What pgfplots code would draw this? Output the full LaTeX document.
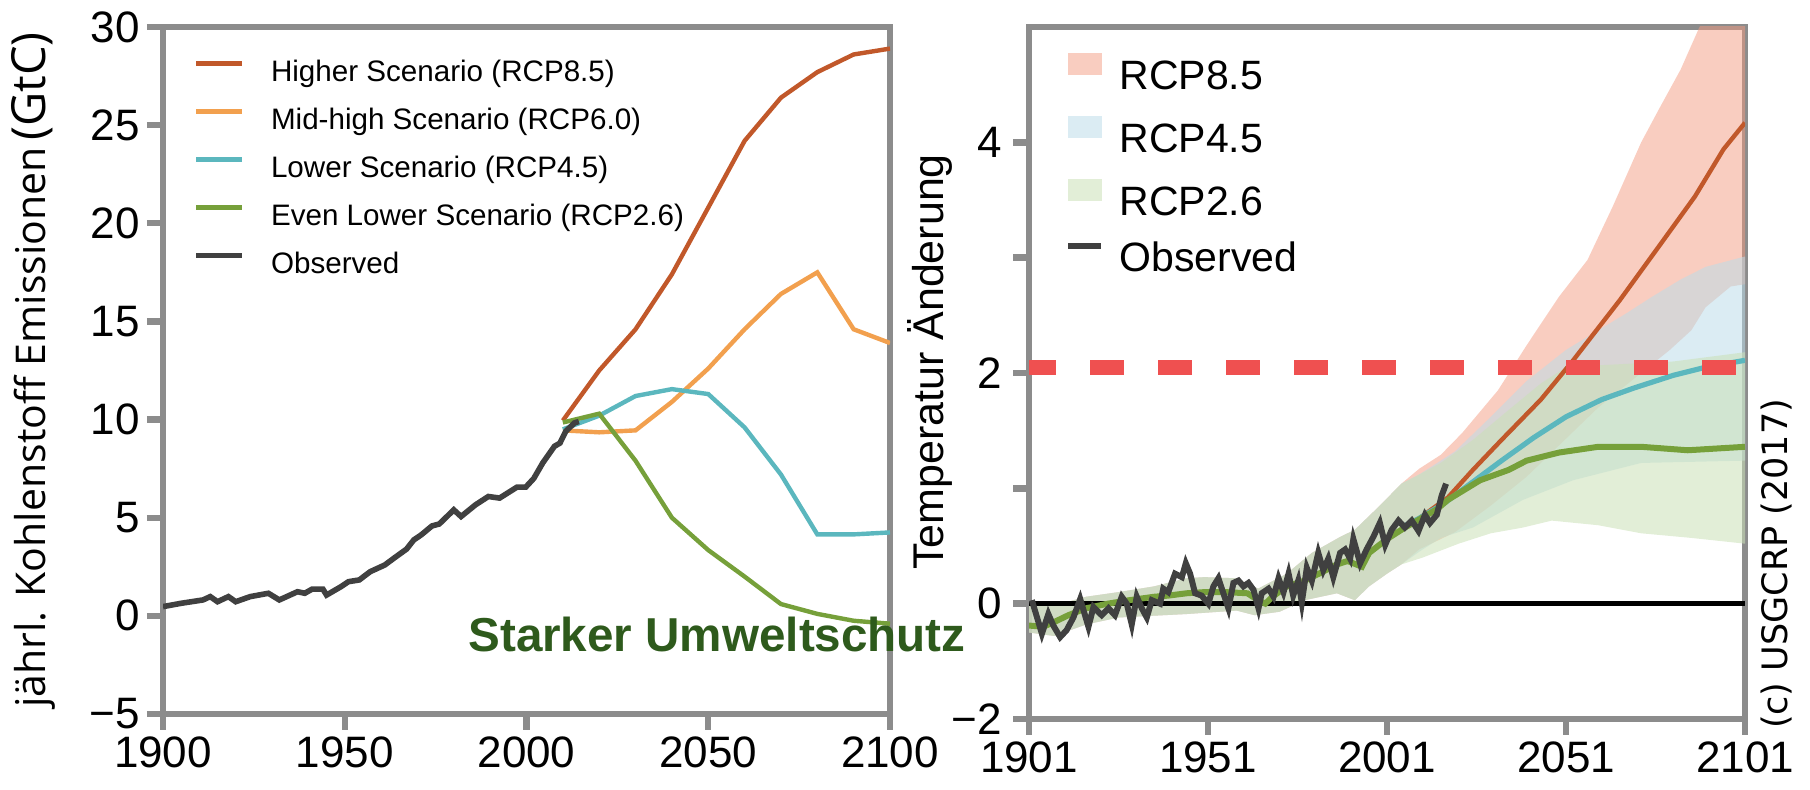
\documentclass[border=0pt]{standalone}
\usepackage{fontspec}
\setmainfont{Liberation Sans}
\newfontfamily\opensans{Open Sans}
\newfontfamily\dejavu{DejaVu Sans}
\usepackage{pgfplots}
\pgfplotsset{compat=1.18}

\definecolor{c85}{HTML}{C1582A}
\definecolor{c60}{HTML}{F2A04E}
\definecolor{c45}{HTML}{5BB7BE}
\definecolor{c26}{HTML}{76A03A}
\definecolor{cobs}{HTML}{404040}
\definecolor{axgray}{HTML}{8C8C8C}
\definecolor{dkgreen}{HTML}{2E5A1C}
\definecolor{band85}{RGB}{243,155,129}
\definecolor{band45}{RGB}{188,220,233}
\definecolor{band26}{RGB}{203,225,184}
\definecolor{p85}{RGB}{249,205,192}
\definecolor{p45}{RGB}{219,236,243}
\definecolor{p26}{RGB}{226,238,215}
\definecolor{dashred}{RGB}{239,80,80}

\pgfplotsset{
  myax/.style={
    scale only axis, anchor=south west,
    axis line style={axgray, line width=3.2pt},
    major tick style={axgray, line width=3.2pt},
    major tick length=8pt, tick align=outside,
    xtick pos=bottom, ytick pos=left,
    tick label style={font=\fontsize{22}{22}\selectfont},
  }
}

\begin{document}
\begin{tikzpicture}
\path[use as bounding box] (0,0) rectangle (905pt,395pt);

% ---------------- left chart ----------------
\begin{axis}[myax,
  at={(81.5pt,38pt)}, width=363.5pt, height=343.5pt,
  xmin=1900, xmax=2100, ymin=-5, ymax=30,
  xtick={1900,1950,2000,2050,2100},
  xticklabels={1900,1950,2000,2050,2100},
  ytick={-5,0,5,10,15,20,25,30},
  yticklabels={−5,0,5,10,15,20,25,30},
  legend cell align=left,
  legend style={at={(0.0413,0.953)}, anchor=north west, draw=none, fill=none,
    inner sep=0pt, font=\fontsize{14.8}{14.8}\selectfont, row sep=9.5pt,
    nodes={inner sep=0pt, text height=11pt, text depth=3.5pt}},
  legend image code/.code={\draw[#1] (0pt,5.4pt) -- (23pt,5.4pt); \path (36pt,0pt);},
]
\addplot[c85, line width=2.2pt] coordinates {
(2010,9.95) (2020,12.5) (2030,14.6) (2040,17.4) (2050,20.8) (2060,24.2)
(2070,26.4) (2080,27.7) (2090,28.6) (2100,28.9)};
\addlegendentry{Higher Scenario (RCP8.5)}
\addplot[c60, line width=2.2pt] coordinates {
(2010,9.45) (2020,9.35) (2030,9.45) (2040,10.9) (2050,12.6) (2060,14.6)
(2070,16.4) (2080,17.5) (2090,14.6) (2100,13.9)};
\addlegendentry{Mid-high Scenario (RCP6.0)}
\addplot[c45, line width=2.2pt] coordinates {
(2010,9.5) (2020,10.2) (2030,11.2) (2040,11.55) (2050,11.3) (2060,9.6)
(2070,7.2) (2080,4.15) (2090,4.15) (2100,4.25)};
\addlegendentry{Lower Scenario (RCP4.5)}
\addplot[c26, line width=2.2pt] coordinates {
(2010,9.85) (2020,10.3) (2030,7.9) (2040,5.0) (2050,3.35) (2060,2.0)
(2070,0.6) (2080,0.1) (2090,-0.25) (2100,-0.4)};
\addlegendentry{Even Lower Scenario (RCP2.6)}
\addplot[cobs, line width=2.8pt] coordinates {
(1900,0.47) (1905,0.64) (1911,0.81) (1913,0.98) (1915,0.72) (1918,0.98)
(1920,0.72) (1924,0.98) (1929,1.15) (1932,0.81) (1937,1.23) (1939,1.15)
(1941,1.36) (1944,1.36) (1945,1.06) (1949,1.49) (1951,1.74) (1954,1.83)
(1957,2.25) (1961,2.59) (1964,3.0) (1967,3.4) (1969,3.87) (1971,4.12)
(1974,4.58) (1976,4.68) (1980,5.4) (1982,5.06) (1986,5.66) (1989.5,6.08)
(1992.6,6.0) (1997.4,6.56) (1999.8,6.56) (2002,7.0) (2004.5,7.8)
(2007.7,8.64) (2009.2,8.8) (2010.8,9.4) (2013.2,9.83) (2014.4,9.9)};
\addlegendentry{Observed}
\end{axis}

% ---------------- right chart ----------------
\begin{axis}[myax,
  at={(514.5pt,35.5pt)}, width=358pt, height=346pt,
  xmin=1901, xmax=2101, ymin=-1, ymax=5,
  xtick={1901,1951,2001,2051,2101},
  xticklabels={1901,1951,2001,2051,2101},
  ytick={-1,0,1,2,3,4},
  yticklabels={−2,0,{},2,{},4},
  yticklabel style={xshift=-2pt},
  legend cell align=left,
  legend style={at={(0.0496,0.963)}, anchor=north west, draw=none, fill=none,
    inner sep=0pt, font=\fontsize{20.5}{20.5}\selectfont, row sep=9.2pt,
    nodes={inner sep=0pt, text height=15pt, text depth=4pt}},
]
% RCP8.5 range
\addplot[fill=band85, fill opacity=0.5, draw=none, forget plot] coordinates {
(1901,-0.02) (1910,0.0) (1917,0.06) (1926,0.10) (1936,0.15) (1945,0.22)
(1950,0.23) (1959,0.22) (1965,0.13) (1973,0.26) (1980,0.44) (1988,0.58)
(1992,0.64) (1999,0.85) (2005,1.04) (2010,1.17) (2016,1.29) (2022,1.48)
(2032,1.85) (2040,2.24) (2049,2.66) (2057,2.98) (2064,3.44) (2072,4.0)
(2077,4.29) (2083,4.63) (2088,4.98) (2101,5.8)
(2101,2.77) (2097,2.75) (2090,2.57) (2086,2.37) (2080,2.2) (2070,1.95)
(2060,1.7) (2050,1.4) (2040,1.1) (2030,0.85) (2020,0.62) (2010,0.47)
(2005,0.34) (2001,0.26) (1996,0.15) (1992,0.03) (1987,0.09) (1978,0.03)
(1971,-0.07) (1964,-0.10) (1959,-0.06) (1945,-0.09) (1926,-0.12)
(1917,-0.18) (1908,-0.28) (1901,-0.25)};
% RCP4.5 range
\addplot[fill=band45, fill opacity=0.54, draw=none, forget plot] coordinates {
(1901,-0.02) (1910,0.0) (1917,0.06) (1926,0.10) (1936,0.15) (1945,0.22)
(1950,0.23) (1959,0.22) (1965,0.13) (1973,0.26) (1980,0.44) (1988,0.58)
(1992,0.64) (1999,0.85) (2005,1.04) (2010,1.12) (2020,1.32) (2030,1.62)
(2040,1.93) (2051,2.2) (2060,2.37) (2068,2.52) (2075,2.66) (2083,2.81)
(2090,2.92) (2101,3.01)
(2101,1.24) (2072,1.22) (2053,1.07) (2039,0.9) (2025,0.66) (2016,0.57)
(2010,0.45)
(2005,0.34) (2001,0.26) (1996,0.15) (1992,0.03) (1987,0.09) (1978,0.03)
(1971,-0.07) (1964,-0.10) (1959,-0.06) (1945,-0.09) (1926,-0.12)
(1917,-0.18) (1908,-0.28) (1901,-0.25)};
% RCP2.6 range
\addplot[fill=band26, fill opacity=0.56, draw=none, forget plot] coordinates {
(1901,-0.02) (1910,0.0) (1917,0.06) (1926,0.10) (1936,0.15) (1945,0.22)
(1950,0.23) (1959,0.22) (1965,0.13) (1973,0.26) (1980,0.44) (1988,0.58)
(1992,0.64) (1999,0.85) (2005,1.04) (2010,1.12) (2016,1.22) (2025,1.42)
(2035,1.68) (2044,1.91) (2051,2.05) (2062,2.07) (2081,2.10) (2101,2.18)
(2101,0.52) (2086,0.57) (2072,0.61) (2060,0.68) (2047,0.72) (2039,0.66)
(2030,0.61) (2021,0.52) (2011,0.40)
(2005,0.34) (2001,0.26) (1996,0.15) (1992,0.03) (1987,0.09) (1978,0.03)
(1971,-0.07) (1964,-0.10) (1959,-0.06) (1945,-0.09) (1926,-0.12)
(1917,-0.18) (1908,-0.28) (1901,-0.25)};

\addplot[black, line width=2.5pt, forget plot] coordinates {(1901,0) (2101,0)};

\addplot[c85, line width=2.2pt, forget plot] coordinates {
(2005,0.66) (2010,0.74) (2018,0.92) (2025,1.16) (2033,1.42) (2044,1.77)
(2053,2.11) (2066,2.63) (2077,3.10) (2087,3.53) (2095,3.94) (2101,4.17)};
\addplot[c45, line width=2.6pt, forget plot] coordinates {
(2005,0.66) (2010,0.74) (2017,0.87) (2023,1.01) (2033,1.24) (2042,1.44)
(2051,1.62) (2061,1.77) (2070,1.87) (2081,1.98) (2090,2.05) (2101,2.11)};
\addplot[c26, line width=3pt, forget plot] coordinates {
(1901,-0.19) (1905,-0.20) (1908,-0.16) (1912,-0.10) (1917,-0.04) (1923,0.0)
(1929,0.03) (1936,0.06) (1940,0.07) (1945,0.09) (1950,0.10) (1956,0.10)
(1962,0.09) (1965,0.03) (1967,0.0) (1969,0.06) (1973,0.15) (1978,0.20)
(1982,0.26) (1987,0.34) (1990,0.37) (1994,0.32) (1996,0.44) (2001,0.56)
(2006,0.66) (2010,0.73) (2015,0.82) (2018,0.90) (2027,1.07) (2035,1.16)
(2040,1.24) (2049,1.31) (2060,1.36) (2072,1.36) (2085,1.33) (2101,1.36)};
\addplot[cobs, line width=3pt, forget plot] coordinates {
(1901.8,0.03) (1904.6,-0.26) (1906.4,-0.09) (1907.8,-0.19) (1909.7,-0.29)
(1911.5,-0.23) (1913.4,-0.12) (1915.3,0.04) (1917.6,-0.20) (1919,-0.03)
(1921.3,-0.10) (1923.2,-0.04) (1925,-0.10) (1926.9,0.06) (1928.3,0.0)
(1929.7,-0.18) (1931.1,0.06) (1932.5,-0.04) (1933.9,-0.12) (1935.3,0.03)
(1937.6,0.0) (1938.5,0.13) (1939.9,0.10) (1941.8,0.26) (1943.7,0.23)
(1944.8,0.35) (1946,0.26) (1947.4,0.09) (1949.2,0.07) (1951.1,0.0)
(1952.5,0.15) (1953.9,0.22) (1955.3,0.09) (1956.7,-0.04) (1958.1,0.18)
(1959.5,0.20) (1960.9,0.15) (1962.3,0.18) (1963.7,0.12) (1965.1,-0.04)
(1966,0.09) (1967.9,0.13) (1969.3,0.06) (1970.7,0.22) (1972.1,0.10)
(1973.5,0.26) (1974.8,0.07) (1976.2,0.20) (1977.2,0.01) (1978.6,0.31)
(1980,0.20) (1981.8,0.44) (1983.2,0.29) (1984.6,0.39) (1986,0.23)
(1987.9,0.44) (1989.3,0.47) (1990.7,0.39) (1991.6,0.56) (1993.5,0.35)
(1995.3,0.47) (1997.2,0.58) (1999,0.70) (2000.5,0.51) (2002.3,0.64)
(2004.2,0.72) (2006,0.66) (2007.9,0.72) (2009.8,0.63) (2011.6,0.77)
(2013,0.70) (2014.9,0.77) (2016.3,0.94) (2017.5,1.04)};

\addplot[dashred, line width=7.5pt, dash pattern=on 17pt off 17pt, dash phase=3.5pt, forget plot]
  coordinates {(1901,2.05) (2101,2.05)};

\addlegendimage{legend image code/.code={\fill[p85] (0pt,2.05pt) rectangle (16.5pt,12.55pt); \path (25.5pt,0pt);}}
\addlegendentry{RCP8.5}
\addlegendimage{legend image code/.code={\fill[p45] (0pt,2.05pt) rectangle (16.5pt,12.55pt); \path (25.5pt,0pt);}}
\addlegendentry{RCP4.5}
\addlegendimage{legend image code/.code={\fill[p26] (0pt,2.05pt) rectangle (16.5pt,12.55pt); \path (25.5pt,0pt);}}
\addlegendentry{RCP2.6}
\addlegendimage{legend image code/.code={\draw[cobs, line width=3.3pt] (0pt,7.3pt) -- (16.5pt,7.3pt); \path (25.5pt,0pt);}}
\addlegendentry{Observed}
\end{axis}

% ---------------- texts ----------------
\node[rotate=90, anchor=base, inner sep=0pt] at (23pt,210pt)
  {\opensans\fontsize{20.5}{20.5}\selectfont jährl. Kohlenstoff Emissionen\,{\fontsize{23.5}{23.5}\selectfont(GtC)}};
\node[rotate=90, anchor=base, inner sep=0pt] at (471.5pt,214pt)
  {\fontsize{21.5}{21.5}\selectfont Temperatur Änderung};
\node[rotate=90, anchor=base, inner sep=0pt] at (893.8pt,113pt)
  {\dejavu\fontsize{17.5}{17.5}\selectfont (c) USGCRP (2017)};
\node[anchor=base west, inner sep=0pt, text=dkgreen] at (234pt,69pt)
  {\bfseries\fontsize{23.8}{23.8}\selectfont Starker Umweltschutz};
\end{tikzpicture}
\end{document}
